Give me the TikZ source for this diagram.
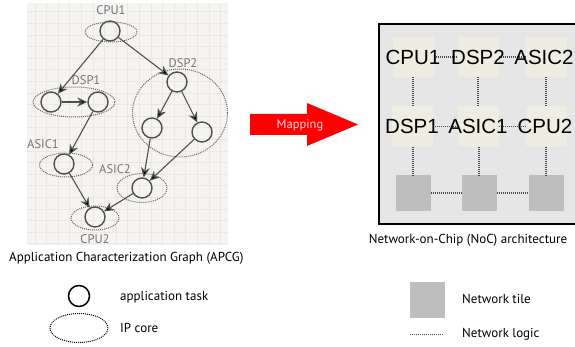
\documentclass[tikz,border=0pt]{standalone}
\usepackage{fontspec}
\setmainfont{PT Sans}
\newfontfamily\tilefont{Liberation Sans}
\usepackage{xcolor}
\usetikzlibrary{shapes.geometric,arrows.meta}

\definecolor{gridbg}{HTML}{F5F4F0}
\definecolor{gridln}{HTML}{EAE8E2}
\definecolor{taskgray}{HTML}{505050}
\definecolor{labelgray}{HTML}{77737F}
\definecolor{chipbg}{HTML}{E6E6E6}
\definecolor{tilebg}{HTML}{EFEDE2}
\definecolor{nettile}{HTML}{BEBEBE}
\definecolor{mapred}{HTML}{FF0000}

\tikzset{
  task/.style={circle, draw=taskgray, line width=1.4pt, minimum size=20pt, inner sep=0pt},
  core/.style={ellipse, draw=taskgray!85, line width=1pt, dash pattern=on 1pt off 1pt, inner sep=0pt},
  flow/.style={->, >={Stealth[length=10pt,width=9pt]}, draw=taskgray, line width=1.1pt},
  tasklabel/.style={text=labelgray, font=\fontsize{12.5}{13}\selectfont, inner sep=0pt},
  pe/.style={fill=tilebg, minimum width=41pt, minimum height=40pt, inner sep=0pt},
  pename/.style={font=\tilefont\fontsize{20.5}{22}\selectfont, inner sep=0pt},
  router/.style={fill=nettile, minimum width=35pt, minimum height=36pt, inner sep=0pt},
  netlink/.style={draw=black!70, line width=1.1pt, dash pattern=on 1pt off 1pt},
  caption/.style={font=\fontsize{13}{15}\selectfont, inner sep=0pt}
}

\begin{document}
\begin{tikzpicture}[x=1pt, y=-1pt]
  \useasboundingbox (0,0) rectangle (575,347);

  % APCG panel
  \fill[gridbg] (27,3) rectangle (228,245);
  \draw[gridln, step=11.6pt] (27,3) grid (228,245);

  % application tasks
  \node[task] (cpuA) at (110,31) {};
  \node[task] (dspA1) at (51,102) {};
  \node[task] (dspA2) at (98,102) {};
  \node[task] (dspB1) at (177,82) {};
  \node[task] (dspB2) at (152,128) {};
  \node[task] (dspB3) at (202,132) {};
  \node[task] (asicA) at (64,164) {};
  \node[task] (asicB) at (142,188) {};
  \node[task] (cpuB) at (95,217) {};

  % IP cores
  \node[core, minimum width=52pt, minimum height=20pt] (cpuAcore) at (111,32) {};
  \node[core, minimum width=82pt, minimum height=30pt] (dspAcore) at (74,102) {};
  \node[core, minimum width=95pt, minimum height=88pt] (dspBcore) at (180,113) {};
  \node[core, minimum width=53pt, minimum height=24pt] (asicAcore) at (66,165) {};
  \node[core, minimum width=50pt, minimum height=29pt] (asicBcore) at (142,188) {};
  \node[core, minimum width=48pt, minimum height=24pt] (cpuBcore) at (95,218) {};

  % core names
  \node[tasklabel] (cpuAname) at (111,10) {CPU1};
  \node[tasklabel] (dspAname) at (86,80) {DSP1};
  \node[tasklabel] (dspBname) at (183,63) {DSP2};
  \node[tasklabel] (asicAname) at (43,144) {ASIC1};
  \node[tasklabel] (asicBname) at (115,169) {ASIC2};
  \node[tasklabel] (cpuBname) at (95,239) {CPU2};

  % edges
  \path[flow] (cpuA) edge (dspA1);
  \path[flow] (cpuA) edge (dspB1);
  \path[flow] (dspA1) edge (dspA2);
  \path[flow] (dspA2) edge (asicA);
  \path[flow] (dspB1) edge (dspB2);
  \path[flow] (dspB1) edge (dspB3);
  \path[flow] (dspB2) edge (asicB);
  \path[flow] (dspB3) edge (asicB);
  \path[flow] (asicA) edge (cpuB);
  \path[flow] (asicB) edge (cpuB);

  \node[caption, anchor=west] (apcgcap) at (9,258) {Application Characterization Graph (APCG)};

  % mapping arrow
  \fill[mapred] (250,114) -- (307,114) -- (307,103) -- (358,124.5) -- (307,146) -- (307,135) -- (250,135) -- cycle;
  \node[text=white!85!red, font=\fontsize{12.5}{13}\selectfont, inner sep=0pt] (maptext) at (300,125) {Mapping};

  % NoC
  \draw[line width=1.6pt, fill=chipbg] (379,24) rectangle (590,224);
  \node[pe] (t11) at (413,57) {};
  \node[pe] (t12) at (478,57) {};
  \node[pe] (t13) at (546,57) {};
  \node[pe] (t21) at (412,126.5) {};
  \node[pe] (t22) at (478,126.5) {};
  \node[pe] (t23) at (546,126.5) {};
  \node[router] (r1) at (413,193) {};
  \node[router] (r2) at (479,193) {};
  \node[router] (r3) at (546,193) {};

  % network logic
  \draw[netlink] (t11.east) -- (t12.west);
  \draw[netlink] (t12.east) -- (t13.west);
  \draw[netlink] (t21.east) -- (t22.west);
  \draw[netlink] (t22.east) -- (t23.west);
  \draw[netlink] (r1.east) -- (r2.west);
  \draw[netlink] (r2.east) -- (r3.west);
  \draw[netlink] (t11.south) -- (t21.north -| t11.south);
  \draw[netlink] (t12.south) -- (t22.north);
  \draw[netlink] (t13.south) -- (t23.north);
  \draw[netlink] (t21.south -| r1.north) -- (r1.north);
  \draw[netlink] (t22.south -| r2.north) -- (r2.north);
  \draw[netlink] (t23.south) -- (r3.north);

  % mapped cores
  \node[pename] (n11) at (t11) {CPU1};
  \node[pename] (n12) at (t12) {DSP2};
  \node[pename] (n13) at ([xshift=-2pt]t13.center) {ASIC2};
  \node[pename] (n21) at (t21) {DSP1};
  \node[pename] (n22) at (t22) {ASIC1};
  \node[pename] (n23) at ([xshift=-1pt]t23.center) {CPU2};

  \node[caption] (noccap) at (468,240) {Network-on-Chip (NoC) architecture};

  % legend
  \node[circle, draw=black, line width=1.5pt, minimum size=21pt, inner sep=0pt] (legtask) at (79,296) {};
  \node[caption, anchor=west] (legtasktxt) at (120,297) {application task};
  \node[ellipse, draw=black, line width=1pt, dash pattern=on 1pt off 1pt, minimum width=58pt, minimum height=29pt, inner sep=0pt] (legcore) at (79,328) {};
  \node[caption, anchor=west] (legcoretxt) at (120,328) {IP core};
  \node[router] (legtile) at (427,299.5) {};
  \node[caption, anchor=west] (legtiletxt) at (462,299) {Network tile};
  \coordinate (legA) at (410,334);
  \coordinate (legB) at (443,334);
  \draw[netlink, line width=0.8pt] (legA) -- (legB);
  \node[caption, anchor=west] (leglinktxt) at (462,334) {Network logic};
\end{tikzpicture}
\end{document}
